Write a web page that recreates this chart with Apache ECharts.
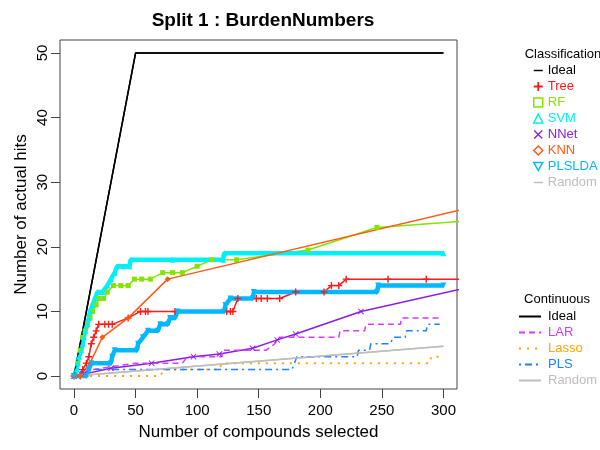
<!DOCTYPE html>
<html>
<head>
<meta charset="utf-8">
<script src="https://cdn.jsdelivr.net/npm/echarts@6/dist/echarts.min.js"></script>
<style>
html,body{margin:0;padding:0;background:#fff;}
#main{width:600px;height:450px;}
</style>
</head>
<body>
<div id="main"></div>
<script>
// tick labels
var xTicks = [0, 50, 100, 150, 200, 250, 300];
var yTicks = [0, 10, 20, 30, 40, 50];

// classification curves [compounds selected, hits]
var ideal = [[0,0],[50,50],[300,50]];
var tree = [[0,0],[5,0],[7,1],[10,2],[12,3],[14,5],[16,6],[18,7],[20,8],[25,8],[28,8],[31,8],[44,9],[54,10],[58,10],[60,10],[82,10],[124,10],[127,10],[129,10],[133,12],[148,12],[152,12],[157,12],[167,12],[180,13],[203,13],[209,14],[215,14],[221,15],[255,15],[286,15],[320,15]];
var rf = [[0,0],[3,2],[5,4],[7,6],[9,7],[11,8],[13,9],[15,10],[18,11],[20,12],[24,12],[27,13],[32,14],[38,14],[44,14],[49,15],[55,15],[62,15],[72,16],[80,16],[88,16],[100,17],[112,18],[132,18],[190,19.5],[246,23],[320,24]];
var svm = [[0,0],[2,1],[3,2],[4,3],[6,4],[7,5],[8,6],[9,7],[11,8],[12,9],[13,10],[15,11],[17,12],[19,13],[23,13],[27,14],[30,15],[33,16],[35,17],[40,17],[45,17],[46,18],[80,18],[121,18],[122,19],[300,19]];
var nnet = [[0,0],[8,0.3],[30,1.2],[63,2],[97,3],[118,3.4],[145,4.3],[165,5.6],[180,6.5],[233,10],[320,13.7]];
var knn = [[0,0],[5,0],[13,2],[23,6],[44,9],[76,15],[320,26]];
var plslda = [[0,0],[10,0],[12,1],[14,2],[30,2],[31,3],[33,4],[51,4],[52,5],[56,6],[60,7],[68,7],[70,8],[76,8],[78,9],[82,9],[84,10],[122,10],[123,11],[127,12],[145,12],[146,13],[246,13],[247,14],[300,14]];
var random = [[0,0],[300,4.6]];

// continuous curves
var lar = [[0,0],[15,1],[50,2],[88,2],[92,3],[120,3],[121,4],[156,4],[163,5],[167,6],[215,6],[216,7],[236,7],[237,8],[265,8],[266,9],[298,9]];
var lasso = [[0,0],[70,0],[73,1],[118,1],[120,2],[289,2],[290,3],[300,3]];
var pls = [[0,0],[8,1],[177,1],[179,2],[181,3],[230,3],[231,4],[240,4],[241,5],[257,5],[259,6],[269,6],[270,7],[286,7],[287,8],[297,8]];

var FONT = 'Liberation Sans, Arial, sans-serif';
var PLUS = 'path://M4,0H6V4H10V6H6V10H4V6H0V4H4Z';
var CROSS = 'path://M1,0L5,4L9,0L10,1L6,5L10,9L9,10L5,6L1,10L0,9L4,5L0,1Z';
var DASH = 'path://M0,0H10V1.6H0Z';
var DOWN = 'path://M0,0L10,0L5,9Z';

var col = {
    ideal: '#000000', tree: '#FF1A1A', rf: '#84E400', svm: '#00F0F8', nnet: '#8B1CE6',
    knn: '#FF5A14', plslda: '#00B8FF', random: '#BEBEBE', lar: '#D63CF5', lasso: '#FFA500', pls: '#1E7FFF'
};

function mkLine(name, data, color, width, symbol, size, dash){
    return {
        name: name, type: 'line', data: data, clip: true,
        symbol: symbol || 'none', symbolSize: size || 5, showSymbol: !!symbol,
        lineStyle: {color: color, width: width, type: dash || 'solid'},
        itemStyle: {color: color},
        emphasis: {disabled: true}, animation: false
    };
}

var series = [
    mkLine('Ideal', ideal, col.ideal, 1.5),
    mkLine('Tree', tree, col.tree, 1.5, PLUS, 7),
    mkLine('RF', rf, col.rf, 1.5, 'rect', 5),
    mkLine('SVM', svm, col.svm, 4.5, 'triangle', 6),
    mkLine('NNet', nnet, col.nnet, 1.5, CROSS, 6),
    mkLine('KNN', knn, col.knn, 1.5, 'diamond', 6),
    mkLine('PLSLDA', plslda, col.plslda, 4.5, DOWN, 6),
    mkLine('Random', random, col.random, 1.5),
    mkLine('Ideal ', ideal, col.ideal, 1.5),
    mkLine('LAR', lar, col.lar, 1.5, null, 0, [6, 4]),
    mkLine('Lasso', lasso, col.lasso, 2, null, 0, [2, 6]),
    mkLine('PLS', pls, col.pls, 1.5, null, 0, [2, 4, 7, 4]),
    mkLine('Random ', random, col.random, 1.5)
];

function clsItem(name, icon, color, hollow){
    return {
        name: name, icon: icon,
        itemStyle: hollow ? {color: '#fff', borderColor: color, borderWidth: 1.5} : {color: color, borderWidth: 0},
        textStyle: {color: color}
    };
}
function conItem(name, color){
    return {name: name, textStyle: {color: color}};
}

var option = {
    backgroundColor: '#fff',
    animation: false,
    title: [
        {text: 'Split 1 : BurdenNumbers', left: 258, top: 6, textAlign: 'center',
         textStyle: {fontFamily: FONT, fontSize: 19, fontWeight: 'bold', color: '#000'}},
        {text: 'Classification', left: 558, top: 43, textAlign: 'center',
         textStyle: {fontFamily: FONT, fontSize: 13, fontWeight: 'normal', color: '#000'}},
        {text: 'Continuous', left: 552, top: 288, textAlign: 'center',
         textStyle: {fontFamily: FONT, fontSize: 13, fontWeight: 'normal', color: '#000'}}
    ],
    legend: [
        {
            orient: 'vertical', left: 528, top: 59, itemWidth: 9, itemHeight: 9, itemGap: 3,
            selectedMode: false,
            textStyle: {fontFamily: FONT, fontSize: 13, lineHeight: 13},
            data: [
                clsItem('Ideal', DASH, col.ideal),
                clsItem('Tree', PLUS, col.tree),
                clsItem('RF', 'rect', col.rf, true),
                clsItem('SVM', 'triangle', col.svm, true),
                clsItem('NNet', CROSS, col.nnet),
                clsItem('KNN', 'diamond', col.knn, true),
                clsItem('PLSLDA', DOWN, col.plslda, true),
                clsItem('Random', DASH, col.random)
            ]
        },
        {
            // line icons only, the symbol is hidden
            orient: 'vertical', left: 513, top: 305, itemWidth: 22, itemHeight: 10, itemGap: 3,
            selectedMode: false,
            itemStyle: {color: 'transparent', borderColor: 'transparent', borderWidth: 0, opacity: 0},
            formatter: function(n){ return n.trim(); },
            textStyle: {fontFamily: FONT, fontSize: 13, lineHeight: 13, padding: [0, 0, 0, 2]},
            data: [
                conItem('Ideal ', '#000'),
                conItem('LAR', col.lar),
                conItem('Lasso', col.lasso),
                conItem('PLS', col.pls),
                conItem('Random ', col.random)
            ]
        }
    ],
    grid: {left: 60, right: 143, top: 40, bottom: 61, show: true, borderColor: '#444', borderWidth: 1, backgroundColor: 'transparent'},
    xAxis: {
        type: 'value', min: -11.4, max: 311,
        name: 'Number of compounds selected', nameLocation: 'middle', nameGap: 35,
        nameTextStyle: {fontFamily: FONT, fontSize: 17, color: '#000'},
        axisLine: {show: false, onZero: false},
        axisTick: {show: true, length: 9, customValues: xTicks, lineStyle: {color: '#444'}},
        axisLabel: {customValues: xTicks, margin: 14, fontFamily: FONT, fontSize: 15, color: '#000'},
        splitLine: {show: false}
    },
    yAxis: {
        type: 'value', min: -2, max: 52,
        name: 'Number of actual hits', nameLocation: 'middle', nameGap: 30, nameMoveOverlap: false,
        nameTextStyle: {fontFamily: FONT, fontSize: 17, color: '#000'},
        axisLine: {show: false, onZero: false},
        axisTick: {show: true, length: 9, customValues: yTicks, lineStyle: {color: '#444'}},
        axisLabel: {customValues: yTicks, rotate: 90, margin: 10, fontFamily: FONT, fontSize: 15, color: '#000'},
        splitLine: {show: false}
    },
    series: series
};

var myChart = echarts.init(document.getElementById('main'));
myChart.setOption(option);
</script>
</body>
</html>
